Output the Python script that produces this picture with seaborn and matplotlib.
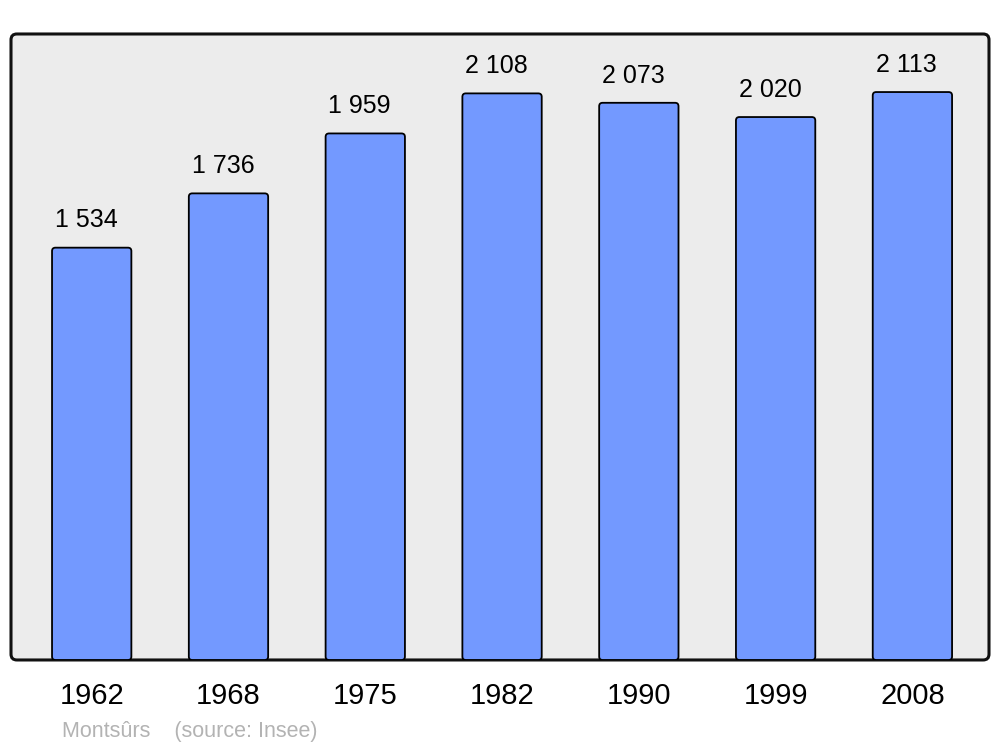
import matplotlib
matplotlib.use("Agg")
import matplotlib.pyplot as plt
from matplotlib.patches import FancyBboxPatch
import seaborn as sns
import pandas as pd

years = ["1962", "1968", "1975", "1982", "1990", "1999", "2008"]
population = [1534, 1736, 1959, 2108, 2073, 2020, 2113]
value_labels = ["1 534", "1 736", "1 959", "2 108", "2 073", "2 020", "2 113"]
caption = "Montsûrs    (source: Insee)"

sns.set_theme(style="white")
plt.rcParams["font.family"] = ["Liberation Sans", "DejaVu Sans"]

df = pd.DataFrame({"year": years, "pop": population})

fig = plt.figure(figsize=(10, 7.47), dpi=100)
ax = fig.add_axes([0.011, 0.1165, 0.978, 0.838])
ax.set_facecolor("none")

sns.barplot(data=df, x="year", y="pop", color="#7399ff", saturation=1,
            width=0.58, edgecolor="black", linewidth=1.3, ax=ax, zorder=3)

ax.set_xlim(-0.59, 6.56)
ax.set_ylim(0, 2329)

# background rounded frame
frame = FancyBboxPatch((0, 0), 1, 1, boxstyle="round,pad=0,rounding_size=0.006",
                       transform=ax.transAxes, facecolor="#ececec", edgecolor="#111111",
                       linewidth=2.2, clip_on=False, zorder=0, mutation_aspect=978/626)
ax.add_patch(frame)

# rounded bars
fig.canvas.draw()
xr = 6.56 + 0.59
yr = 2329
aspect = (yr / 626) / (xr / 978)
for p in list(ax.patches):
    if p is frame:
        continue
    x, y, w, h = p.get_x(), p.get_y(), p.get_width(), p.get_height()
    rp = FancyBboxPatch((x, y), w, h, boxstyle="round,pad=0,rounding_size=0.025",
                        mutation_aspect=aspect, facecolor="#7399ff", edgecolor="black",
                        linewidth=1.3, zorder=3)
    p.remove()
    ax.add_patch(rp)

for i, (v, lab) in enumerate(zip(population, value_labels)):
    ax.annotate(lab, (i, v), xytext=(-4, 11), textcoords="offset points",
                ha="center", va="bottom", fontsize=18, color="black")

for s in ax.spines.values():
    s.set_visible(False)
ax.set_yticks([])
ax.set_xlabel("")
ax.set_ylabel("")
ax.tick_params(axis="x", length=0, pad=16, labelsize=21, colors="black")

fig.text(0.062, 0.021, caption, fontsize=15.5, color="#b3b3b3", ha="left", va="center")

fig.savefig("out.png", dpi=100, facecolor="white")
